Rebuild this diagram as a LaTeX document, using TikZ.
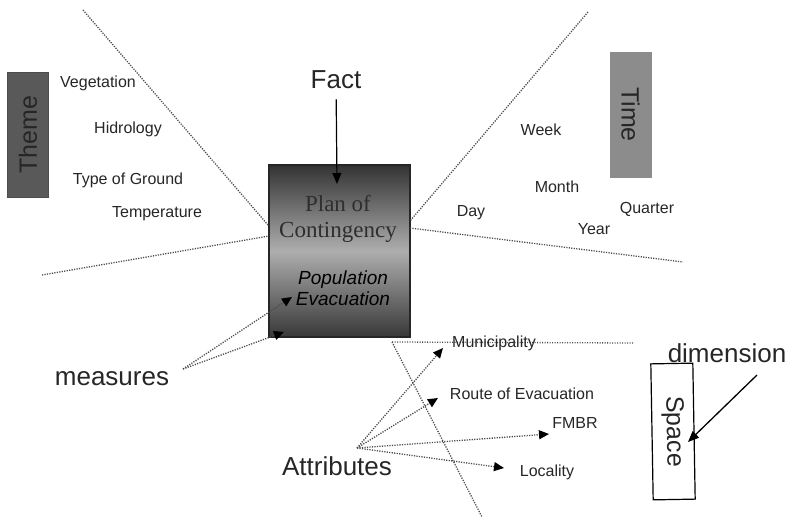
\documentclass[tikz,border=0pt]{standalone}
\usepackage{fontspec}
\setmainfont{Liberation Sans}
\newfontfamily\planfont{Liberation Serif}
\usetikzlibrary{arrows.meta}

\begin{document}
\begin{tikzpicture}
  [x=1pt,y=-1pt,
   every node/.style={inner sep=0pt,text=black!85,font=\fontsize{16}{18}\selectfont},
   big/.style={font=\fontsize{26}{30}\selectfont},
   dimbox/.style={minimum width=125pt,minimum height=41pt,font=\fontsize{25}{28}\selectfont},
   guide/.style={draw=black!70,line width=1.3pt,dash pattern=on 1.2pt off 1.3pt},
   pointer/.style={guide,-{Triangle[length=10pt,width=9pt,color=black]}}]
  \useasboundingbox (0,0) rectangle (790,519);

  % the fact and its name
  \node[draw=black!85,line width=1.2pt,minimum width=141pt,minimum height=172pt,
        top color=black!80,bottom color=black!78,middle color=black!32] (fact) at (339.5,251) {};
  \node[font=\planfont\fontsize{23}{26}\selectfont,text=black!82,align=center] (plan) at (338,219) {Plan of\\Contingency};
  \node[font=\itshape\fontsize{19}{21}\selectfont,text=black,align=center] (pop) at (343,288) {Population\\Evacuation};
  \node[big] (factlbl) at (336,80) {Fact};
  \coordinate (facttip) at (337,184);
  \draw[line width=1.2pt,-{Triangle[length=11pt,width=9pt]},shorten <=10pt] (factlbl) -- (facttip);

  % dimensions
  \node[dimbox,fill=black!65,draw=black!70,rotate=90] (theme) at (28,134.5) {Theme};
  \node[dimbox,fill=black!45,draw=black!45,rotate=-90] (time) at (630.5,114.5) {Time};
  \node[dimbox,fill=white,draw=black,line width=1.2pt,minimum width=136pt,minimum height=42pt,rotate=-89] (space) at (673,431.5) {Space};
  \node[big] (dimlbl) at (727,353) {dimension};
  \coordinate (dimfoot) at (757,375);
  \coordinate (dimtip) at (688,442);
  \draw[line width=1.3pt,-{Triangle[length=11pt,width=9pt]}] (dimfoot) -- (dimtip);

  % separating lines
  \coordinate (t1) at (83,10);   \coordinate (t2) at (268,225);
  \coordinate (l1) at (42,275);  \coordinate (l2) at (269,236);
  \coordinate (r1) at (588,12);  \coordinate (r2) at (410,221);
  \coordinate (r3) at (410,228); \coordinate (r4) at (683,262);
  \coordinate (s0) at (392,342); \coordinate (s1) at (634,343);
  \coordinate (s2) at (482,517);
  \foreach \from/\to in {t1/t2,l1/l2,r1/r2,r3/r4,s0/s1,s0/s2}
    \draw[guide] (\from) -- (\to);

  % theme members
  \node (veg)  at (98,83)   {Vegetation};
  \node (hid)  at (128,129) {Hidrology};
  \node (gnd)  at (128,180) {Type of Ground};
  \node (temp) at (157,214) {Temperature};

  % time members
  \node (week)    at (541,130) {Week};
  \node (month)   at (557,187) {Month};
  \node (day)     at (471,213) {Day};
  \node (quarter) at (647,209) {Quarter};
  \node (year)    at (594,229) {Year};

  % measures
  \node[big] (meas) at (112,379) {measures};
  \coordinate (mfoot) at (183,369);
  \coordinate (mtip1) at (292,297);
  \coordinate (mtip2) at (284,332);
  \foreach \to in {mtip1,mtip2}
    \draw[pointer] (mfoot) -- (\to);

  % attributes
  \node[big] (attr) at (337,466) {Attributes};
  \node (munic) at (494,343) {Municipality};
  \node (route) at (522,394) {Route of Evacuation};
  \node (fmbr)  at (575,423) {FMBR};
  \node (local) at (547,472) {Locality};
  \coordinate (afoot) at (357,448);
  \coordinate (atip1) at (443,348);
  \coordinate (atip2) at (438,398);
  \coordinate (atip3) at (549,434);
  \coordinate (atip4) at (504,468);
  \foreach \to in {atip1,atip2,atip3,atip4}
    \draw[pointer] (afoot) -- (\to);
\end{tikzpicture}
\end{document}
